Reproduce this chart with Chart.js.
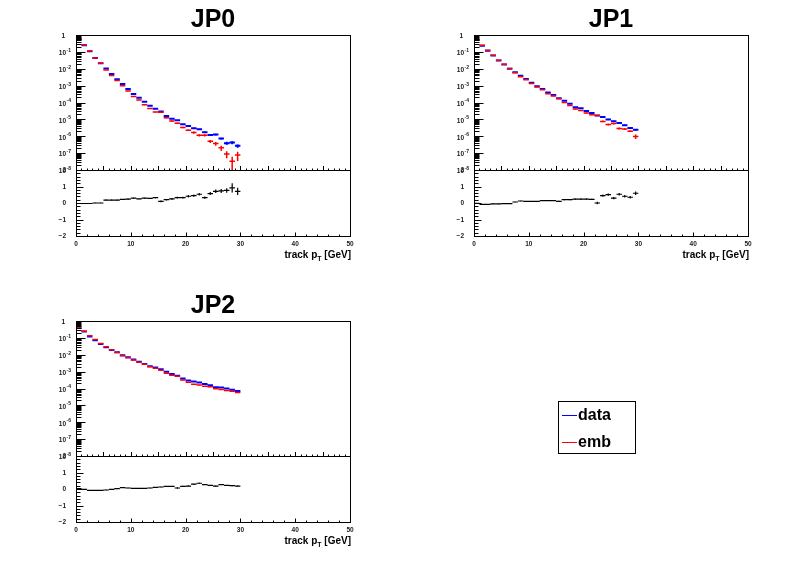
<!DOCTYPE html>
<html><head><meta charset="utf-8">
<script src="https://cdn.jsdelivr.net/npm/chart.js@4.4.1/dist/chart.umd.min.js"></script>
<style>
html,body{margin:0;padding:0;background:#fff;}
#wrap{position:relative;width:796px;height:572px;overflow:hidden;background:#fff;font-family:"Liberation Sans",Arial,sans-serif;}
#wrap canvas{position:absolute;left:0;top:0;}
.title{position:absolute;font-weight:bold;font-size:25px;line-height:25px;transform:translate(-50%,-50%);white-space:nowrap;}
.xt{position:absolute;font-weight:bold;font-size:10px;line-height:10px;white-space:nowrap;}
.xt sub{font-size:7px;vertical-align:-3px;line-height:0;}
.legend{position:absolute;left:558px;top:401px;width:78px;height:53px;border:1px solid #000;box-sizing:border-box;}
.lg{position:absolute;left:19px;font-weight:bold;font-size:16px;line-height:16px;white-space:nowrap;}
.lgl{position:absolute;left:3px;width:15px;height:0;border-top:1px solid #000;}
</style></head>
<body>
<div id="wrap"></div>
<script>
// ---------------- data ----------------
const binLow = [0,1,2,3,4,5,6,7,8,9,10,11,12,13,14,15,16,17,18,19,20,21,22,23,24,25,26,27,28,29];
const binWidth = 1;
const panelTitles = ['JP0','JP1','JP2'];
const legendLabels = ['data','emb'];
const xTickLabels = [0,10,20,30,40,50];
const ratioTickLabels = [-2,-1,0,1,2];
const logTickExponents = [0,-1,-2,-3,-4,-5,-6,-7,-8];

// JP0
const jp0Data  = [0.56,0.25,0.11,4.4e-2,2.15e-2,1.05e-2,4.9e-3,2.4e-3,1.25e-3,6.4e-4,3.2e-4,1.9e-4,1.1e-4,6.4e-5,4.2e-5,2.9e-5,1.6e-5,1.1e-5,8.8e-6,5.1e-6,4.0e-6,3.0e-6,2.6e-6,1.75e-6,1.2e-6,1.25e-6,7.3e-7,3.9e-7,4.2e-7,2.7e-7];
const jp0Emb   = [0.575,0.257,0.113,4.35e-2,2.15e-2,8.5e-3,4.0e-3,2.0e-3,9.7e-4,4.8e-4,2.25e-4,1.43e-4,7.4e-5,4.4e-5,2.7e-5,2.6e-5,1.25e-5,8.0e-6,5.9e-6,3.3e-6,2.3e-6,1.65e-6,1.15e-6,1.15e-6,5.0e-7,3.7e-7,2.05e-7,9.0e-8,3.3e-8,7.7e-8];
const jp0Ratio = [-0.03,-0.03,-0.03,0.0,0.0,0.18,0.18,0.18,0.22,0.24,0.29,0.25,0.29,0.28,0.32,0.1,0.2,0.25,0.33,0.33,0.41,0.45,0.53,0.33,0.57,0.71,0.73,0.76,0.92,0.71];
const jp0DataRelErr = [0.02,0.02,0.02,0.02,0.02,0.02,0.02,0.02,0.02,0.02,0.02,0.02,0.02,0.02,0.02,0.02,0.05,0.05,0.05,0.05,0.05,0.08,0.08,0.08,0.12,0.12,0.12,0.2,0.2,0.22];
const jp0EmbRelErr  = [0.02,0.02,0.02,0.02,0.02,0.02,0.02,0.02,0.02,0.02,0.06,0.06,0.06,0.06,0.06,0.06,0.1,0.1,0.1,0.1,0.1,0.15,0.15,0.15,0.2,0.25,0.35,0.45,0.85,0.55];
const jp0RatioErr   = [0.01,0.01,0.01,0.01,0.01,0.03,0.03,0.03,0.03,0.03,0.03,0.03,0.03,0.03,0.03,0.05,0.05,0.05,0.05,0.05,0.07,0.07,0.07,0.07,0.09,0.11,0.12,0.14,0.28,0.22];

// JP1
const jp1Data  = [0.50,0.227,0.117,6.0e-2,3.05e-2,1.79e-2,1.01e-2,6.2e-3,3.8e-3,2.47e-3,1.46e-3,9.2e-4,6.3e-4,3.9e-4,2.8e-4,1.8e-4,1.25e-4,8.3e-5,5.3e-5,4.5e-5,3.15e-5,2.38e-5,1.7e-5,1.38e-5,1.0e-5,7.8e-6,6.0e-6,4.5e-6,3.1e-6,2.4e-6];
const jp1Emb   = [0.51,0.245,0.126,6.3e-2,3.2e-2,1.86e-2,1.05e-2,5.8e-3,3.4e-3,2.24e-3,1.32e-3,8.3e-4,5.6e-4,3.3e-4,2.45e-4,1.66e-4,1.0e-4,6.6e-5,4.1e-5,3.4e-5,2.4e-5,1.86e-5,1.72e-5,7.6e-6,4.9e-6,5.6e-6,2.9e-6,2.65e-6,2.0e-6,9.8e-7];
const jp1Ratio = [-0.02,-0.08,-0.08,-0.05,-0.05,-0.04,-0.04,0.06,0.12,0.1,0.1,0.1,0.14,0.14,0.14,0.1,0.2,0.2,0.24,0.24,0.24,0.22,0.0,0.45,0.51,0.3,0.53,0.41,0.35,0.59];
const jp1DataRelErr = [0.02,0.02,0.02,0.02,0.02,0.02,0.02,0.02,0.02,0.02,0.02,0.02,0.02,0.02,0.02,0.03,0.03,0.03,0.03,0.03,0.06,0.06,0.06,0.08,0.08,0.08,0.1,0.1,0.12,0.12];
const jp1EmbRelErr  = [0.03,0.03,0.03,0.03,0.03,0.03,0.03,0.03,0.03,0.03,0.03,0.03,0.03,0.03,0.03,0.03,0.06,0.06,0.06,0.06,0.06,0.06,0.06,0.12,0.12,0.12,0.12,0.12,0.12,0.3];
const jp1RatioErr   = [0.02,0.02,0.02,0.02,0.02,0.02,0.02,0.02,0.02,0.02,0.02,0.02,0.02,0.02,0.02,0.04,0.04,0.04,0.04,0.04,0.04,0.04,0.08,0.07,0.07,0.07,0.08,0.08,0.08,0.1];

// JP2
const jp2Data  = [0.40,0.24,0.122,7.3e-2,4.4e-2,2.8e-2,1.9e-2,1.41e-2,9.4e-3,7.0e-3,5.2e-3,3.8e-3,2.8e-3,2.07e-3,1.75e-3,1.37e-3,9.7e-4,7.3e-4,5.6e-4,3.9e-4,3.0e-4,2.6e-4,2.3e-4,1.83e-4,1.57e-4,1.18e-4,1.14e-4,9.9e-5,8.5e-5,7.1e-5];
const jp2Emb   = [0.39,0.245,0.132,7.9e-2,4.7e-2,2.95e-2,1.95e-2,1.38e-2,8.7e-3,6.6e-3,4.9e-3,3.55e-3,2.7e-3,1.95e-3,1.58e-3,1.2e-3,7.9e-4,6.0e-4,5.3e-4,3.2e-4,2.35e-4,1.8e-4,1.6e-4,1.35e-4,1.25e-4,9.6e-5,8.6e-5,7.7e-5,6.8e-5,5.8e-5];
const jp2Ratio = [0.02,-0.02,-0.08,-0.08,-0.08,-0.06,-0.02,0.02,0.08,0.06,0.04,0.04,0.04,0.06,0.1,0.12,0.16,0.16,0.06,0.16,0.18,0.29,0.35,0.27,0.22,0.18,0.27,0.22,0.2,0.18];
const jp2DataRelErr = [0.02,0.02,0.02,0.02,0.02,0.02,0.02,0.02,0.02,0.02,0.02,0.02,0.02,0.02,0.02,0.02,0.02,0.02,0.02,0.03,0.03,0.03,0.03,0.03,0.04,0.04,0.04,0.04,0.05,0.05];
const jp2EmbRelErr  = [0.02,0.02,0.02,0.02,0.02,0.02,0.02,0.02,0.02,0.02,0.02,0.02,0.02,0.02,0.02,0.02,0.02,0.02,0.03,0.03,0.03,0.03,0.03,0.03,0.04,0.04,0.04,0.04,0.05,0.05];
const jp2RatioErr   = [0.01,0.01,0.01,0.01,0.01,0.01,0.01,0.01,0.01,0.01,0.02,0.02,0.02,0.02,0.02,0.02,0.02,0.02,0.05,0.03,0.03,0.03,0.03,0.03,0.03,0.03,0.03,0.03,0.03,0.03];

// ---------------- helpers ----------------
const W = 796, H = 572;
const wrap = document.getElementById('wrap');
const LABEL_FONT = 'bold 6.5px "Liberation Sans", Arial, sans-serif';
const SUP_FONT = 'bold 5px "Liberation Sans", Arial, sans-serif';

function histPts(vals){
  const p=[];
  vals.forEach((v,i)=>{ p.push({x:binLow[i],y:v},{x:binLow[i]+binWidth,y:v},{x:binLow[i]+binWidth,y:null}); });
  return p;
}
function errPts(vals, e, rel, floor){
  const p=[];
  vals.forEach((v,i)=>{
    const c=binLow[i]+binWidth/2; const d = rel ? v*e[i] : e[i];
    let lo=v-d; if(floor!==undefined && lo<=floor) lo=floor;
    p.push({x:c,y:lo},{x:c,y:v+d},{x:c,y:null});
  });
  return p;
}
function ds(data,color,width){
  return {data, borderColor:color, borderWidth:width, pointRadius:0, showLine:true, fill:false, spanGaps:false, tension:0, borderCapStyle:'butt'};
}

function axesPlugin(kind){
  return {
    id:'rootAxes',
    afterDatasetsDraw(chart){
      const c=chart.ctx, a=chart.chartArea, xs=chart.scales.x, ys=chart.scales.y;
      c.save();
      c.strokeStyle='#000'; c.lineWidth=1;
      c.strokeRect(Math.round(a.left)+0.5, Math.round(a.top)+0.5, Math.round(a.right-a.left), Math.round(a.bottom-a.top));
      c.beginPath();
      const bot = Math.round(a.bottom)+0.5;
      if(kind==='log'){
        for(let v=0; v<=50; v+=1){
          const px=Math.round(xs.getPixelForValue(v))+0.5;
          const len = (v%5===0)?4.5:2;
          c.moveTo(px,bot); c.lineTo(px,bot-len);
        }
      } else {
        for(let v=0; v<=50; v+=2){
          const px=Math.round(xs.getPixelForValue(v))+0.5;
          const len = (v%10===0)?4:2;
          c.moveTo(px,bot); c.lineTo(px,bot-len);
        }
      }
      const lx = Math.round(a.left)+0.5;
      if(kind==='log'){
        logTickExponents.forEach(e=>{
          const py=Math.round(ys.getPixelForValue(Math.pow(10,e)))+0.5;
          c.moveTo(lx,py); c.lineTo(lx+9,py);
          if(e<0){
            for(let m=2;m<=9;m++){
              const q=Math.round(ys.getPixelForValue(m*Math.pow(10,e)))+0.5;
              c.moveTo(lx,q); c.lineTo(lx+5,q);
            }
          }
        });
      } else {
        for(let i=-10;i<=10;i++){
          const v=i/5;
          const py=Math.round(ys.getPixelForValue(v))+0.5;
          const len=(i%5===0)?7:4;
          c.moveTo(lx,py); c.lineTo(lx+len,py);
        }
      }
      c.stroke();
      c.fillStyle='#1a1a1a';
      const labX = a.left-10;
      if(kind==='log'){
        logTickExponents.forEach(e=>{
          const py=ys.getPixelForValue(Math.pow(10,e));
          if(e===0){
            c.font=LABEL_FONT; c.textAlign='right'; c.textBaseline='middle';
            c.fillText('1', labX-1, py+1);
          } else {
            c.font=LABEL_FONT; c.textAlign='right'; c.textBaseline='middle';
            c.fillText('10', labX, py+1.5);
            c.font=SUP_FONT; c.textAlign='left';
            c.fillText('-'+String(-e), labX+0.5, py-1.5);
          }
        });
      } else {
        c.font=LABEL_FONT; c.textAlign='right'; c.textBaseline='middle';
        ratioTickLabels.forEach(v=>{
          const py=ys.getPixelForValue(v);
          c.fillText(v<0?('\u2212'+String(-v)):String(v), labX, py+0.5);
        });
        c.textAlign='center'; c.textBaseline='top';
        xTickLabels.forEach(v=>{
          const px=xs.getPixelForValue(v);
          c.fillText(String(v), px, a.bottom+5);
        });
      }
      c.restore();
    }
  };
}

function makePad(kind, box, datasets){
  const cv=document.createElement('canvas');
  cv.width=W; cv.height=H; cv.style.width=W+'px'; cv.style.height=H+'px';
  wrap.appendChild(cv);
  const yScale = kind==='log'
    ? {type:'logarithmic', min:1e-8, max:1, display:false}
    : {type:'linear', min:-2, max:2, display:false};
  return new Chart(cv.getContext('2d'), {
    type:'line',
    data:{datasets},
    options:{
      responsive:false, animation:false, events:[], devicePixelRatio:1,
      layout:{padding:{left:box.L, top:box.T, right:W-box.R, bottom:H-box.B}},
      plugins:{legend:{display:false}, tooltip:{enabled:false}, title:{display:false}},
      scales:{ x:{type:'linear', min:0, max:50, display:false}, y:yScale }
    },
    plugins:[axesPlugin(kind)]
  });
}

const panels = [
  {title:panelTitles[0], data:jp0Data, emb:jp0Emb, ratio:jp0Ratio, de:jp0DataRelErr, ee:jp0EmbRelErr, re:jp0RatioErr, L:76, R:350, T:35, M:170, B:236},
  {title:panelTitles[1], data:jp1Data, emb:jp1Emb, ratio:jp1Ratio, de:jp1DataRelErr, ee:jp1EmbRelErr, re:jp1RatioErr, L:474, R:748, T:35, M:170, B:236},
  {title:panelTitles[2], data:jp2Data, emb:jp2Emb, ratio:jp2Ratio, de:jp2DataRelErr, ee:jp2EmbRelErr, re:jp2RatioErr, L:76, R:350, T:321, M:456, B:522}
];

panels.forEach(p=>{
  const embH = Object.assign(ds(histPts(p.emb),'#ff0000',1.5),{order:0});
  const embE = Object.assign(ds(errPts(p.emb,p.ee,true,1e-10),'#ff0000',1.5),{order:0});
  const datH = Object.assign(ds(histPts(p.data),'#0000ff',2),{order:1});
  const datE = Object.assign(ds(errPts(p.data,p.de,true,1e-10),'#0000ff',2),{order:1});
  makePad('log', {L:p.L, R:p.R, T:p.T, B:p.M}, [embH, embE, datH, datE]);
  makePad('ratio', {L:p.L, R:p.R, T:p.M, B:p.B}, [ds(histPts(p.ratio),'#000000',1.2), ds(errPts(p.ratio,p.re,false),'#000000',1.2)]);

  const t=document.createElement('div'); t.className='title'; t.textContent=p.title;
  t.style.left=((p.L+p.R)/2)+'px'; t.style.top=(p.T-17)+'px'; wrap.appendChild(t);

  const xt=document.createElement('div'); xt.className='xt';
  xt.innerHTML='track p<sub>T</sub> [GeV]';
  xt.style.right=(W-p.R-1)+'px'; xt.style.top=(p.B+14)+'px'; wrap.appendChild(xt);
});

// legend
const lg=document.createElement('div'); lg.className='legend';
const legendColors=['#0000ff','#ff0000'];
legendLabels.forEach((lab,i)=>{
  const ln=document.createElement('div'); ln.className='lgl';
  ln.style.top=(13+i*27)+'px'; ln.style.borderTopColor=legendColors[i];
  lg.appendChild(ln);
  const e=document.createElement('div'); e.className='lg';
  e.style.top=(5+i*27)+'px';
  e.textContent=lab;
  lg.appendChild(e);
});
wrap.appendChild(lg);
</script>
</body></html>
